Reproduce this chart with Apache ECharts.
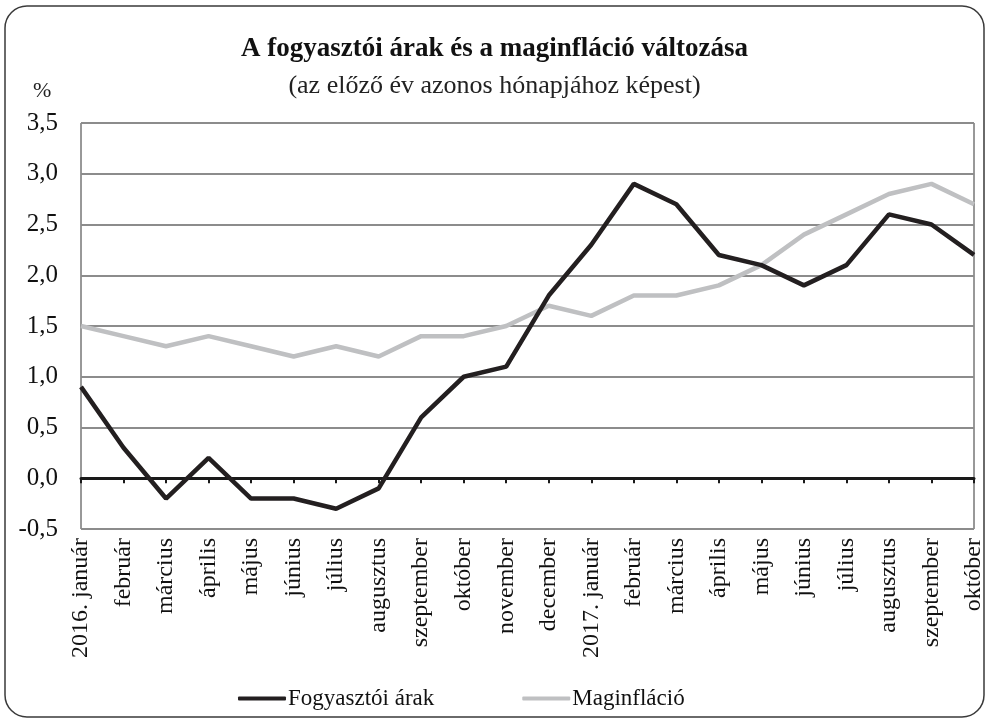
<!DOCTYPE html>
<html>
<head>
<meta charset="utf-8">
<title>Fogyasztói árak és maginfláció</title>
<script src="https://cdn.jsdelivr.net/npm/echarts@6/dist/echarts.min.js"></script>
<style>
  html, body { margin: 0; padding: 0; background: #fff; }
  #chart { width: 989px; height: 719px; }
</style>
</head>
<body>
<div id="chart"></div>
<script>
// havi adatok, 2016. január - 2017. október
const months = [
  "2016. január", "február", "március", "április", "május", "június",
  "július", "augusztus", "szeptember", "október", "november", "december",
  "2017. január", "február", "március", "április", "május", "június",
  "július", "augusztus", "szeptember", "október"
];
const fogyasztoi = [0.9, 0.3, -0.2, 0.2, -0.2, -0.2, -0.3, -0.1, 0.6, 1.0, 1.1, 1.8,
  2.3, 2.9, 2.7, 2.2, 2.1, 1.9, 2.1, 2.6, 2.5, 2.2];
const maginflacio = [1.5, 1.4, 1.3, 1.4, 1.3, 1.2, 1.3, 1.2, 1.4, 1.4, 1.5, 1.7,
  1.6, 1.8, 1.8, 1.9, 2.1, 2.4, 2.6, 2.8, 2.9, 2.7];
const yTicks = [-0.5, 0, 0.5, 1, 1.5, 2, 2.5, 3, 3.5];

const font = "'Liberation Serif', 'DejaVu Serif', serif";
const chart = echarts.init(document.getElementById("chart"));

chart.setOption({
  animation: false,
  title: {
    text: "A fogyasztói árak és a maginfláció változása",
    subtext: "(az előző év azonos hónapjához képest)",
    left: "center",
    top: 31,
    itemGap: 10,
    textStyle: { fontFamily: font, fontSize: 27, fontWeight: "bold", color: "#111" },
    subtextStyle: { fontFamily: font, fontSize: 26, color: "#222" },
  },
  graphic: [
    {
      type: "rect",
      shape: { x: 5, y: 6, width: 979, height: 711, r: 22 },
      style: { fill: "none", stroke: "#3a3a3a", lineWidth: 1.5 },
      silent: true,
    },
    {
      type: "text",
      left: 33,
      top: 80,
      style: { text: "%", font: "22px " + font, fill: "#222" },
    },
  ],
  legend: {
    left: 233,
    top: 682,
    itemWidth: 48,
    itemHeight: 4,
    itemGap: 88,
    icon: "roundRect",
    data: ["Fogyasztói árak", "Maginfláció"],
    textStyle: { fontFamily: font, fontSize: 23, color: "#111", padding: [0, 0, 0, -3] },
  },
  grid: {
    left: 81,
    right: 15,
    top: 123,
    bottom: 190,
    show: true,
    borderColor: "#333",
    borderWidth: 1,
  },
  xAxis: [
    {
      type: "category",
      data: months,
      boundaryGap: false,
      position: "bottom",
      axisLine: { show: false, onZero: false },
      axisTick: { show: false },
      axisLabel: {
        rotate: 90,
        margin: 9,
        interval: 0,
        fontFamily: font,
        fontSize: 24,
        color: "#111",
      },
    },
    {
      type: "category",
      data: months,
      boundaryGap: false,
      position: "bottom",
      axisLine: { show: true, onZero: true, lineStyle: { color: "#1a1a1a", width: 3 } },
      axisTick: { show: true, length: 5, interval: 0, lineStyle: { color: "#1a1a1a", width: 2 } },
      axisLabel: { show: false },
    },
  ],
  yAxis: {
    type: "value",
    min: -0.5,
    max: 3.5,
    interval: 0.5,
    axisLine: { show: false },
    axisTick: { show: false },
    splitLine: { lineStyle: { color: "#8c8c8c", width: 2 } },
    axisLabel: {
      margin: 23,
      fontFamily: font,
      fontSize: 25,
      color: "#111",
      formatter: (v) => (yTicks.includes(v) ? v.toFixed(1).replace(".", ",") : ""),
    },
  },
  series: [
    {
      name: "Fogyasztói árak",
      type: "line",
      data: fogyasztoi,
      showSymbol: false,
      z: 4,
      itemStyle: { color: "#231f20" },
      lineStyle: { color: "#231f20", width: 4.5 },
    },
    {
      name: "Maginfláció",
      type: "line",
      data: maginflacio,
      showSymbol: false,
      z: 3,
      itemStyle: { color: "#bfc0c2" },
      lineStyle: { color: "#bfc0c2", width: 4.5 },
    },
  ],
});
</script>
</body>
</html>
